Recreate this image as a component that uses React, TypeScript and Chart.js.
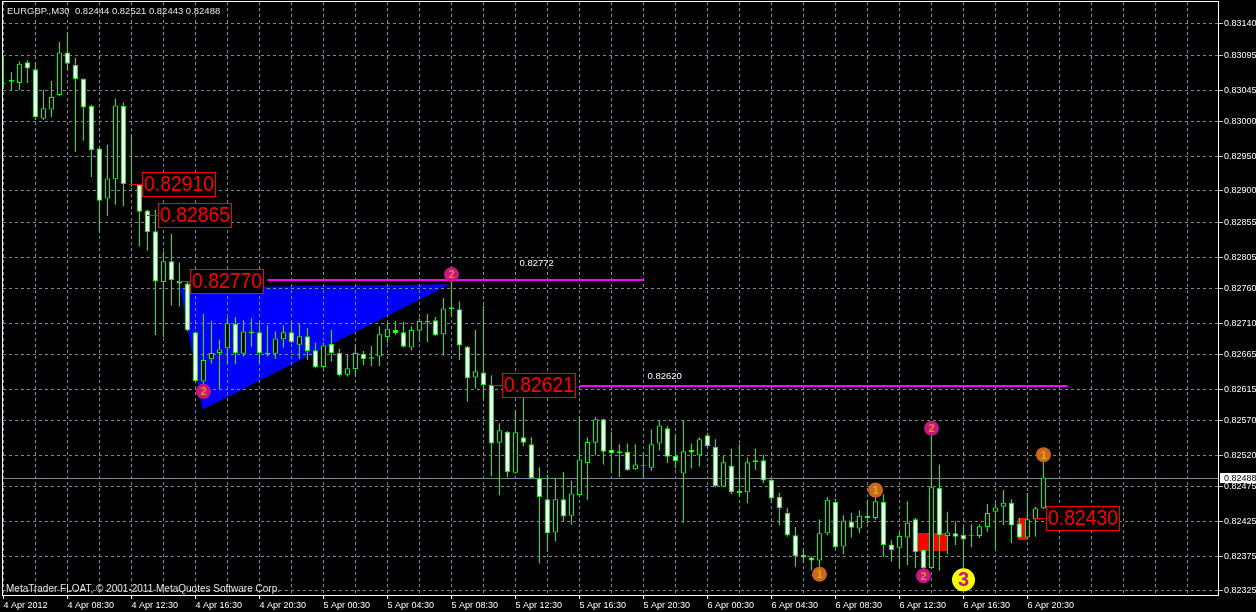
import React, { useEffect, useRef } from 'react';
import { Chart, registerables } from 'chart.js';

Chart.register(...registerables);

// ---------------- data ----------------
const symbol = 'EURGBP.,M30';

const timeLabels = [
  '4 Apr 2012', '4 Apr 08:30', '4 Apr 12:30', '4 Apr 16:30', '4 Apr 20:30',
  '5 Apr 00:30', '5 Apr 04:30', '5 Apr 08:30', '5 Apr 12:30', '5 Apr 16:30', '5 Apr 20:30',
  '6 Apr 00:30', '6 Apr 04:30', '6 Apr 08:30', '6 Apr 12:30', '6 Apr 16:30', '6 Apr 20:30',
];

const opens = [
  0.83054, 0.83057, 0.83055, 0.83085, 0.83075, 0.83004, 0.83017, 0.83038, 0.83099, 0.83081,
  0.83061, 0.83022, 0.82961, 0.82889, 0.82917, 0.83022, 0.82910, 0.82909, 0.82872, 0.82842,
  0.82769, 0.82799, 0.82771, 0.82767, 0.82697, 0.82626, 0.82658, 0.82667, 0.82674, 0.82709,
  0.82666, 0.82698, 0.82697, 0.82667, 0.82666, 0.82687, 0.82697, 0.82679, 0.82691, 0.82671,
  0.82647, 0.82680, 0.82667, 0.82636, 0.82644, 0.82666, 0.82661, 0.82662, 0.82690, 0.82700,
  0.82697, 0.82675, 0.82699, 0.82713, 0.82714, 0.82694, 0.82733, 0.82730, 0.82676, 0.82632,
  0.82639, 0.82621, 0.82538, 0.82554, 0.82495, 0.82546, 0.82536, 0.82487, 0.82457, 0.82409,
  0.82457, 0.82433, 0.82463, 0.82509, 0.82538, 0.82572, 0.82528, 0.82523, 0.82525, 0.82500,
  0.82506, 0.82502, 0.82537, 0.82559, 0.82519, 0.82494, 0.82528, 0.82520, 0.82549, 0.82532,
  0.82475, 0.82505, 0.82469, 0.82467, 0.82510, 0.82513, 0.82485, 0.82460, 0.82437, 0.82405,
  0.82377, 0.82373, 0.82369, 0.82408, 0.82453, 0.82389, 0.82425, 0.82415, 0.82433, 0.82430,
  0.82453, 0.82392, 0.82387, 0.82402, 0.82428, 0.82384, 0.82358, 0.82473, 0.82404, 0.82408,
  0.82406, 0.82405, 0.82404, 0.82417, 0.82439, 0.82446, 0.82452, 0.82422, 0.82402, 0.82428,
  0.82444,
];

const highs = [
  0.83093, 0.83071, 0.83086, 0.83088, 0.83085, 0.83045, 0.83058, 0.83114, 0.83128, 0.83091,
  0.83062, 0.83024, 0.82964, 0.82966, 0.83033, 0.83027, 0.82981, 0.82910, 0.82873, 0.82873,
  0.82813, 0.82838, 0.82797, 0.82769, 0.82698, 0.82723, 0.82713, 0.82686, 0.82718, 0.82719,
  0.82714, 0.82717, 0.82712, 0.82707, 0.82698, 0.82707, 0.82713, 0.82710, 0.82703, 0.82682,
  0.82682, 0.82700, 0.82673, 0.82665, 0.82680, 0.82670, 0.82677, 0.82705, 0.82709, 0.82713,
  0.82712, 0.82705, 0.82717, 0.82723, 0.82719, 0.82746, 0.82772, 0.82741, 0.82677, 0.82700,
  0.82735, 0.82635, 0.82566, 0.82555, 0.82585, 0.82616, 0.82546, 0.82503, 0.82492, 0.82487,
  0.82496, 0.82484, 0.82576, 0.82546, 0.82575, 0.82573, 0.82554, 0.82536, 0.82537, 0.82536,
  0.82524, 0.82557, 0.82571, 0.82562, 0.82551, 0.82571, 0.82537, 0.82546, 0.82552, 0.82543,
  0.82519, 0.82530, 0.82536, 0.82517, 0.82530, 0.82521, 0.82487, 0.82466, 0.82444, 0.82417,
  0.82386, 0.82375, 0.82428, 0.82460, 0.82458, 0.82434, 0.82437, 0.82441, 0.82456, 0.82464,
  0.82464, 0.82398, 0.82409, 0.82454, 0.82430, 0.82385, 0.82552, 0.82507, 0.82439, 0.82425,
  0.82417, 0.82421, 0.82421, 0.82450, 0.82451, 0.82470, 0.82457, 0.82430, 0.82466, 0.82446,
  0.82521,
];

const lows = [
  0.83048, 0.83045, 0.83045, 0.83055, 0.83002, 0.83002, 0.83006, 0.83036, 0.83074, 0.82956,
  0.82972, 0.82920, 0.82841, 0.82864, 0.82880, 0.82878, 0.82906, 0.82820, 0.82814, 0.82693,
  0.82690, 0.82735, 0.82734, 0.82698, 0.82625, 0.82622, 0.82652, 0.82615, 0.82651, 0.82651,
  0.82662, 0.82676, 0.82652, 0.82662, 0.82659, 0.82675, 0.82681, 0.82659, 0.82657, 0.82645,
  0.82645, 0.82655, 0.82633, 0.82633, 0.82633, 0.82650, 0.82648, 0.82648, 0.82681, 0.82693,
  0.82675, 0.82671, 0.82683, 0.82683, 0.82691, 0.82663, 0.82719, 0.82657, 0.82597, 0.82616,
  0.82600, 0.82490, 0.82463, 0.82489, 0.82494, 0.82533, 0.82486, 0.82365, 0.82381, 0.82396,
  0.82425, 0.82420, 0.82460, 0.82456, 0.82520, 0.82507, 0.82495, 0.82489, 0.82498, 0.82499,
  0.82487, 0.82498, 0.82527, 0.82509, 0.82501, 0.82423, 0.82501, 0.82504, 0.82530, 0.82474,
  0.82474, 0.82464, 0.82460, 0.82451, 0.82499, 0.82480, 0.82451, 0.82419, 0.82403, 0.82360,
  0.82365, 0.82355, 0.82355, 0.82405, 0.82386, 0.82378, 0.82402, 0.82408, 0.82422, 0.82427,
  0.82374, 0.82367, 0.82358, 0.82362, 0.82358, 0.82354, 0.82357, 0.82354, 0.82378, 0.82391,
  0.82355, 0.82388, 0.82401, 0.82410, 0.82385, 0.82420, 0.82394, 0.82401, 0.82400, 0.82403,
  0.82443,
];

const closes = [
  0.83055, 0.83060, 0.83083, 0.83076, 0.83006, 0.83019, 0.83035, 0.83099, 0.83083, 0.83061,
  0.83020, 0.82959, 0.82886, 0.82918, 0.83023, 0.82910, 0.82909, 0.82870, 0.82841, 0.82770,
  0.82799, 0.82772, 0.82767, 0.82700, 0.82627, 0.82657, 0.82667, 0.82672, 0.82710, 0.82667,
  0.82698, 0.82695, 0.82667, 0.82665, 0.82688, 0.82697, 0.82683, 0.82691, 0.82670, 0.82647,
  0.82678, 0.82667, 0.82635, 0.82645, 0.82667, 0.82658, 0.82659, 0.82694, 0.82702, 0.82696,
  0.82676, 0.82700, 0.82713, 0.82711, 0.82693, 0.82731, 0.82730, 0.82678, 0.82631, 0.82641,
  0.82621, 0.82537, 0.82556, 0.82496, 0.82553, 0.82538, 0.82487, 0.82460, 0.82408, 0.82457,
  0.82432, 0.82465, 0.82514, 0.82539, 0.82572, 0.82525, 0.82523, 0.82526, 0.82499, 0.82507,
  0.82505, 0.82536, 0.82563, 0.82518, 0.82512, 0.82526, 0.82524, 0.82543, 0.82533, 0.82476,
  0.82510, 0.82467, 0.82466, 0.82510, 0.82513, 0.82484, 0.82458, 0.82444, 0.82405, 0.82375,
  0.82373, 0.82369, 0.82408, 0.82456, 0.82388, 0.82426, 0.82416, 0.82433, 0.82430, 0.82454,
  0.82391, 0.82384, 0.82404, 0.82423, 0.82381, 0.82358, 0.82474, 0.82405, 0.82409, 0.82403,
  0.82399, 0.82404, 0.82418, 0.82437, 0.82445, 0.82452, 0.82419, 0.82402, 0.82428, 0.82444,
  0.82488,
];

const priceTicks = [
  0.83140, 0.83095, 0.83045, 0.83000, 0.82950, 0.82900, 0.82855, 0.82805, 0.82760,
  0.82710, 0.82665, 0.82615, 0.82570, 0.82520, 0.82475, 0.82425, 0.82375, 0.82325,
];

const priceMin = 0.8231925;
const priceMax = 0.831716;
const barMin = -0.0625;
const barMax = 151.9375;
const barsPerGrid = 4;
const barsPerLabel = 8;

const bidPrice = 0.82488;

// boxed price labels
const boxBars = [16, 18, 22, 61, 129];
const boxPrices = [0.8291, 0.82865, 0.8277, 0.82621, 0.8243];

// horizontal levels
const levelPrices = [0.82772, 0.8262];
const levelStartBars = [33, 72];
const levelEndBars = [80, 133];
const levelTextBars = [64, 80];
const levelTextPrices = [0.82796, 0.82634];

// triangle
const triangleBars = [22.06, 55.81, 24.9];
const trianglePrices = [0.82761, 0.82766, 0.82586];

// red zones
const zoneStartBars = [114.3, 126.75];
const zoneEndBars = [117.9, 128.1];
const zoneTopPrices = [0.82409, 0.8243];
const zoneBottomPrices = [0.82383, 0.82398];

// wave markers
const markerBars = [56, 25, 116, 115, 102, 109, 130, 120];
const markerPrices = [0.8278, 0.82612, 0.82559, 0.82347, 0.82349, 0.8247, 0.82521, 0.82341];
const markerTexts = ['2', '2', '2', '2', '1', '1', '1', '3'];

const copyright = 'MetaTrader FLOAT, \u00A9 2001-2011 MetaQuotes Software Corp.';

// ---------------- styles ----------------
const FONT = '"Liberation Sans", Arial, sans-serif';
const GRID = 'rgb(119,136,153)';
const LIME = '#00ff00';

const mt4Plugin = {
  id: 'mt4overlay',
  beforeDraw(chart: any) {
    const { ctx, scales } = chart;
    const x = scales.x;
    const y = scales.y;
    ctx.save();
    ctx.fillStyle = '#000000';
    ctx.fillRect(0, 0, chart.width, chart.height);
    ctx.beginPath();
    triangleBars.forEach((b, k) => {
      const px = x.getPixelForValue(b);
      const py = y.getPixelForValue(trianglePrices[k]);
      if (k === 0) ctx.moveTo(px, py);
      else ctx.lineTo(px, py);
    });
    ctx.closePath();
    ctx.fillStyle = '#0000ff';
    ctx.fill();
    ctx.restore();
  },
  beforeDatasetsDraw(chart: any) {
    const { ctx, scales, chartArea: a } = chart;
    const x = scales.x;
    const y = scales.y;
    ctx.save();
    // red zones
    ctx.fillStyle = '#ff0000';
    zoneStartBars.forEach((b, k) => {
      const x0 = Math.round(x.getPixelForValue(b));
      const x1 = Math.round(x.getPixelForValue(zoneEndBars[k]));
      const y0 = Math.round(y.getPixelForValue(zoneTopPrices[k]));
      const y1 = Math.round(y.getPixelForValue(zoneBottomPrices[k]));
      ctx.fillRect(x0, y0, x1 - x0, y1 - y0);
    });
    // magenta levels
    ctx.strokeStyle = '#ff00ff';
    ctx.lineWidth = 2;
    levelPrices.forEach((p, k) => {
      const yy = Math.round(y.getPixelForValue(p));
      ctx.beginPath();
      ctx.moveTo(x.getPixelForValue(levelStartBars[k]), yy);
      ctx.lineTo(x.getPixelForValue(levelEndBars[k]), yy);
      ctx.stroke();
    });
    // bid line
    ctx.strokeStyle = GRID;
    ctx.lineWidth = 1;
    const by = Math.round(y.getPixelForValue(bidPrice)) + 0.5;
    ctx.beginPath();
    ctx.moveTo(a.left, by);
    ctx.lineTo(a.right, by);
    ctx.stroke();
    ctx.restore();
  },
  afterDatasetsDraw(chart: any) {
    const { ctx, scales } = chart;
    const x = scales.x;
    const y = scales.y;
    ctx.save();
    // level texts
    ctx.fillStyle = '#ffffff';
    ctx.font = `9.5px ${FONT}`;
    ctx.textAlign = 'left';
    ctx.textBaseline = 'middle';
    levelTextBars.forEach((b, k) => {
      ctx.fillText(levelPrices[k].toFixed(5), x.getPixelForValue(b) + 4, y.getPixelForValue(levelTextPrices[k]));
    });
    // boxed labels
    boxBars.forEach((b, k) => {
      const cx = x.getPixelForValue(b);
      const cy = y.getPixelForValue(boxPrices[k]);
      const ly = Math.round(cy) + 0.5;
      const left = Math.floor(cx) + 11;
      const top = Math.round(cy - 12);
      ctx.strokeStyle = '#ff0000';
      ctx.lineWidth = 1;
      ctx.beginPath();
      ctx.moveTo(Math.floor(cx), ly);
      ctx.lineTo(left, ly);
      ctx.stroke();
      ctx.fillStyle = '#000000';
      ctx.fillRect(left, top, 73, 24);
      ctx.strokeRect(left + 0.5, top + 0.5, 73, 24);
      ctx.save();
      ctx.translate(left + 2, top + 12.5);
      ctx.scale(0.88, 1);
      ctx.fillStyle = '#ff0000';
      ctx.font = `22px ${FONT}`;
      ctx.textAlign = 'left';
      ctx.textBaseline = 'middle';
      ctx.fillText(boxPrices[k].toFixed(5), 0, 0);
      ctx.restore();
    });
    // markers
    markerBars.forEach((b, k) => {
      const cx = x.getPixelForValue(b);
      const cy = y.getPixelForValue(markerPrices[k]);
      const t = markerTexts[k];
      let r = 7.5;
      let fill = '#c71585';
      let color = '#e09020';
      let size = 11;
      if (t === '1') {
        fill = '#cd661d';
        color = '#d8b020';
      } else if (t === '3') {
        r = 11.5;
        fill = '#ffff00';
        color = '#c71585';
        size = 20;
      }
      ctx.beginPath();
      ctx.arc(cx, cy, r, 0, Math.PI * 2);
      ctx.fillStyle = fill;
      ctx.fill();
      ctx.fillStyle = color;
      ctx.font = `bold ${size}px ${FONT}`;
      ctx.textAlign = 'center';
      ctx.textBaseline = 'middle';
      ctx.fillText(t, cx, cy + 1);
    });
    ctx.restore();
  },
  afterDraw(chart: any) {
    const { ctx, scales, chartArea: a } = chart;
    const y = scales.y;
    ctx.save();
    // frame
    ctx.strokeStyle = '#ffffff';
    ctx.lineWidth = 1;
    ctx.strokeRect(a.left - 0.5, a.top - 0.5, a.right - a.left, a.bottom - a.top + 1);
    // title
    const n = opens.length - 1;
    const title = `${symbol}  ${opens[n].toFixed(5)} ${highs[n].toFixed(5)} ${lows[n].toFixed(5)} ${closes[n].toFixed(5)}`;
    ctx.fillStyle = '#e6e6e6';
    ctx.font = `9.5px ${FONT}`;
    ctx.textAlign = 'left';
    ctx.textBaseline = 'middle';
    ctx.fillText(title, a.left + 4, a.top + 9);
    // copyright
    ctx.font = `10px ${FONT}`;
    ctx.fillStyle = '#e6e6e6';
    ctx.fillText(copyright, a.left + 3, a.bottom - 6);
    // current price box
    const by = Math.round(y.getPixelForValue(bidPrice));
    ctx.fillStyle = '#ffffff';
    ctx.fillRect(a.right + 1, by - 5, chart.width - a.right, 10);
    ctx.fillStyle = '#000000';
    ctx.font = `9px ${FONT}`;
    ctx.fillText(bidPrice.toFixed(5), a.right + 5, by + 0.5);
    ctx.restore();
  },
};

export default function App() {
  const ref = useRef<HTMLCanvasElement | null>(null);

  useEffect(() => {
    document.body.style.margin = '0';
    document.body.style.background = '#000000';
    const canvas = ref.current;
    if (!canvas) return;

    const bodyData = opens.map((o, i) => ({ x: i, y: [o, closes[i]] }));
    const wickData = opens.map((_o, i) => ({ x: i, y: [lows[i], highs[i]] }));
    const bodyColors = opens.map((o, i) => (closes[i] >= o ? '#000000' : '#ffffff'));
    const gridValues: number[] = [];
    for (let v = 0; v <= barMax; v += barsPerGrid) gridValues.push(v);

    const chart = new Chart(canvas, {
      type: 'bar',
      data: {
        datasets: [
          {
            label: 'body',
            data: bodyData as any,
            backgroundColor: bodyColors,
            borderColor: LIME,
            borderWidth: 1,
            borderSkipped: false,
            barPercentage: 0.625,
            categoryPercentage: 1,
            grouped: false,
            inflateAmount: 0,
            order: 0,
          } as any,
          {
            label: 'wick',
            data: wickData as any,
            backgroundColor: LIME,
            borderWidth: 0,
            barPercentage: 0.125,
            categoryPercentage: 1,
            grouped: false,
            inflateAmount: 0,
            order: 1,
          } as any,
        ],
      },
      options: {
        animation: false,
        responsive: false,
        maintainAspectRatio: false,
        events: [],
        layout: { padding: { left: 3, top: 2, right: 0, bottom: 0 } },
        plugins: { legend: { display: false }, tooltip: { enabled: false }, title: { display: false } },
        scales: {
          x: {
            type: 'linear',
            position: 'bottom',
            min: barMin,
            max: barMax,
            bounds: 'data',
            offset: false,
            afterBuildTicks: (s: any) => {
              s.ticks = gridValues.map((v) => ({ value: v }));
            },
            afterFit: (s: any) => {
              s.height = 17;
              s.paddingLeft = 0;
              s.paddingRight = 0;
            },
            ticks: {
              autoSkip: false,
              maxRotation: 0,
              minRotation: 0,
              align: 'start',
              padding: 1,
              color: '#ffffff',
              font: { family: FONT, size: 9 },
              callback: (v: any) => {
                const n = Number(v);
                if (n % barsPerLabel !== 0) return '';
                return timeLabels[n / barsPerLabel] ?? '';
              },
            },
            grid: {
              offset: false,
              color: GRID,
              lineWidth: 1,
              drawTicks: true,
              tickLength: 4,
              tickColor: (c: any) => {
                const v = c.tick ? c.tick.value : -1;
                return v % barsPerLabel === 0 && v / barsPerLabel < timeLabels.length ? '#ffffff' : 'rgba(0,0,0,0)';
              },
            },
            border: { display: false, dash: [3, 3] },
          } as any,
          y: {
            type: 'linear',
            position: 'right',
            min: priceMin,
            max: priceMax,
            bounds: 'data',
            afterBuildTicks: (s: any) => {
              s.ticks = priceTicks.map((v) => ({ value: v }));
            },
            afterFit: (s: any) => {
              s.width = 37;
              s.paddingTop = 0;
              s.paddingBottom = 0;
            },
            ticks: {
              autoSkip: false,
              padding: 1,
              crossAlign: 'near',
              color: '#ffffff',
              font: { family: FONT, size: 9 },
              callback: (v: any) => Number(v).toFixed(5),
            },
            grid: {
              color: GRID,
              lineWidth: 1,
              drawTicks: true,
              tickLength: 4,
              tickColor: '#c8c8c8',
            },
            border: { display: false, dash: [3, 3] },
          } as any,
        },
      },
      plugins: [mt4Plugin],
    });

    return () => chart.destroy();
  }, []);

  return (
    <div style={{ position: 'fixed', left: 0, top: 0, width: 1256, height: 612, background: '#000000' }}>
      <canvas ref={ref} width={1256} height={612} style={{ display: 'block', width: 1256, height: 612 }} />
    </div>
  );
}
